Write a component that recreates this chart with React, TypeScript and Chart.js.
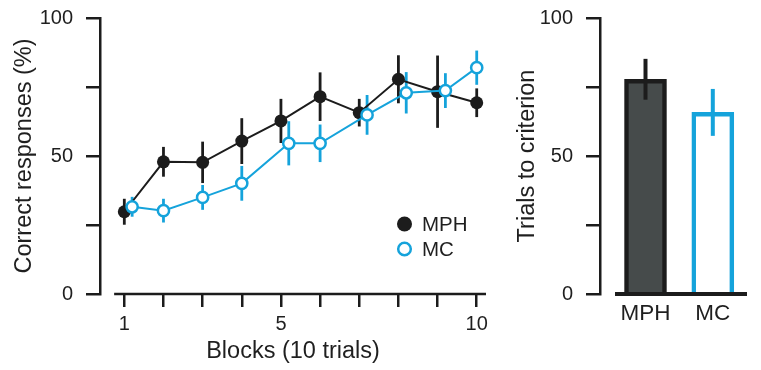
import React, { useEffect, useRef } from "react";
import { Chart, registerables } from "chart.js";

Chart.register(...registerables);

// ---------- data ----------
const blocks = [1, 2, 3, 4, 5, 6, 7, 8, 9, 10];
const mcBlocks = [1.2, 2, 3, 4, 5.2, 6, 7.2, 8.2, 9.2, 10];
const mphMean = [29.8, 47.9, 47.7, 55.4, 62.7, 71.5, 65.7, 77.8, 73.3, 69.3];
const mphErr = [4.7, 5.4, 7.5, 8.3, 8.0, 8.8, 5.0, 8.7, 13.1, 5.2];
const mcMean = [31.6, 30.2, 35.0, 40.1, 54.6, 54.6, 64.9, 72.9, 73.7, 82.0];
const mcErr = [3.6, 4.3, 4.5, 6.3, 8.0, 6.8, 7.2, 7.5, 6.3, 6.2];
const labeledBlocks = [1, 5, 10];
const yTicks = [0, 25, 50, 75, 100];
const yLabeled = [0, 50, 100];
const groups = ["MPH", "MC"];
const groupPos = [1, 2];
const trialsMean = [77.8, 65.8];
const trialsErr = [7.4, 8.5];
const seriesNames = ["MPH", "MC"];

// ---------- style ----------
const INK = "#1c1c1c";
const BLUE = "#15a3db";
const BAR_DARK = "#464b4b";
const TEXT = "#1f1f1f";
const FONT = '"Liberation Sans", Arial, Helvetica, sans-serif';
Chart.defaults.font.family = FONT;
Chart.defaults.color = TEXT;

const leftPlugin = {
  id: "leftDecor",
  beforeDatasetsDraw(chart: any) {
    const { ctx, scales } = chart;
    const x = scales.x;
    const y = scales.y;
    ctx.save();
    // detached x axis line
    ctx.strokeStyle = INK;
    ctx.lineWidth = 2.5;
    const yb = y.getPixelForValue(0);
    ctx.beginPath();
    ctx.moveTo(x.getPixelForValue(0.74), yb);
    ctx.lineTo(x.getPixelForValue(x.max), yb);
    ctx.stroke();
    // error bars
    chart.data.datasets.forEach((ds: any, di: number) => {
      const meta = chart.getDatasetMeta(di);
      ctx.strokeStyle = ds.borderColor;
      ctx.lineWidth = 2.8;
      meta.data.forEach((pt: any, i: number) => {
        const v = ds.data[i].y;
        const e = ds.errors[i];
        ctx.beginPath();
        ctx.moveTo(pt.x, y.getPixelForValue(v + e));
        ctx.lineTo(pt.x, y.getPixelForValue(v - e));
        ctx.stroke();
      });
    });
    ctx.restore();
  },
  afterDatasetsDraw(chart: any) {
    const { ctx, chartArea } = chart;
    const cx = chartArea.right - 81.5;
    const rows = [chartArea.top + 206, chartArea.top + 231];
    ctx.save();
    ctx.fillStyle = INK;
    ctx.beginPath();
    ctx.arc(cx, rows[0], 7.5, 0, Math.PI * 2);
    ctx.fill();
    ctx.strokeStyle = BLUE;
    ctx.lineWidth = 2.5;
    ctx.fillStyle = "#fff";
    ctx.beginPath();
    ctx.arc(cx, rows[1], 6.3, 0, Math.PI * 2);
    ctx.fill();
    ctx.stroke();
    ctx.fillStyle = TEXT;
    ctx.font = `20.5px ${FONT}`;
    ctx.textBaseline = "middle";
    ctx.textAlign = "left";
    ctx.fillText(seriesNames[0], cx + 17.5, rows[0] + 1);
    ctx.fillText(seriesNames[1], cx + 17.5, rows[1] + 1);
    ctx.restore();
  },
};

const rightPlugin = {
  id: "rightDecor",
  afterDatasetsDraw(chart: any) {
    const { ctx, scales } = chart;
    const x = scales.x;
    const y = scales.y;
    ctx.save();
    const ds = chart.data.datasets[0];
    const meta = chart.getDatasetMeta(0);
    ctx.lineWidth = 4;
    meta.data.forEach((bar: any, i: number) => {
      const v = ds.data[i].y;
      const e = ds.errors[i];
      ctx.strokeStyle = ds.borderColor[i];
      ctx.beginPath();
      ctx.moveTo(bar.x, y.getPixelForValue(v + e));
      ctx.lineTo(bar.x, y.getPixelForValue(v - e));
      ctx.stroke();
    });
    const yb = y.getPixelForValue(0);
    ctx.strokeStyle = INK;
    ctx.lineWidth = 4;
    ctx.beginPath();
    ctx.moveTo(x.getPixelForValue(0.547), yb);
    ctx.lineTo(x.getPixelForValue(x.max), yb);
    ctx.stroke();
    ctx.restore();
  },
};

function yScale(title: string, titlePad: number) {
  return {
    type: "linear",
    min: 0,
    max: 100,
    afterBuildTicks: (s: any) => {
      s.ticks = yTicks.map((v) => ({ value: v }));
    },
    afterFit: (s: any) => {
      s.width = 100;
      s.paddingTop = 0;
      s.paddingBottom = 0;
    },
    ticks: {
      autoSkip: false,
      padding: 13,
      color: TEXT,
      font: { size: 20 },
      callback: (v: number) => (yLabeled.includes(v) ? String(v) : ""),
    },
    grid: {
      drawOnChartArea: false,
      drawTicks: true,
      tickLength: 14,
      color: INK,
      lineWidth: 2.5,
    },
    border: { display: true, color: INK, width: 2.5 },
    title: {
      display: true,
      text: title,
      color: TEXT,
      font: { size: 23.5 },
      padding: { top: titlePad, bottom: 0 },
    },
  };
}

export default function App() {
  const leftRef = useRef<HTMLCanvasElement>(null);
  const rightRef = useRef<HTMLCanvasElement>(null);

  useEffect(() => {
    const left = new Chart(leftRef.current as HTMLCanvasElement, {
      type: "line",
      data: {
        datasets: [
          {
            label: seriesNames[0],
            data: blocks.map((b, i) => ({ x: b, y: mphMean[i] })),
            errors: mphErr,
            borderColor: INK,
            backgroundColor: INK,
            borderWidth: 2,
            pointRadius: 6.5,
            pointBackgroundColor: INK,
            pointBorderColor: INK,
            pointBorderWidth: 0,
            tension: 0,
            order: 1,
          } as any,
          {
            label: seriesNames[1],
            data: mcBlocks.map((b, i) => ({ x: b, y: mcMean[i] })),
            errors: mcErr,
            borderColor: BLUE,
            backgroundColor: "#fff",
            borderWidth: 2,
            pointRadius: 5.6,
            pointBackgroundColor: "#fff",
            pointBorderColor: BLUE,
            pointBorderWidth: 2.5,
            tension: 0,
            order: 0,
          } as any,
        ],
      },
      options: {
        animation: false,
        responsive: false,
        devicePixelRatio: 1,
        events: [],
        layout: { padding: { top: 18, right: 14, left: 0, bottom: 0 } },
        plugins: { legend: { display: false }, tooltip: { enabled: false } },
        scales: {
          x: {
            type: "linear",
            min: 0.379,
            max: 10.237,
            afterBuildTicks: (s: any) => {
              s.ticks = blocks.map((v) => ({ value: v }));
            },
            afterFit: (s: any) => {
              s.height = 76;
              s.paddingLeft = 0;
              s.paddingRight = 0;
            },
            ticks: {
              autoSkip: false,
              maxRotation: 0,
              padding: 5.5,
              color: TEXT,
              font: { size: 20 },
              callback: (v: number) => (labeledBlocks.includes(v) ? String(v) : ""),
            },
            grid: {
              drawOnChartArea: false,
              drawTicks: true,
              tickLength: 13,
              color: INK,
              lineWidth: 2.5,
            },
            border: { display: false },
            title: {
              display: true,
              text: "Blocks (10 trials)",
              color: TEXT,
              font: { size: 23.5 },
              padding: { top: 0, bottom: 4.6 },
            },
          },
          y: yScale("Correct responses (%)", 10) as any,
        },
      } as any,
      plugins: [leftPlugin],
    });

    const right = new Chart(rightRef.current as HTMLCanvasElement, {
      type: "bar",
      data: {
        datasets: [
          {
            label: "Trials to criterion",
            data: groupPos.map((p, i) => ({ x: p, y: trialsMean[i] })),
            errors: trialsErr,
            backgroundColor: [BAR_DARK, "#ffffff"],
            borderColor: [INK, BLUE],
            borderWidth: 4.5,
            borderSkipped: "bottom",
            barThickness: 42,
          } as any,
        ],
      },
      options: {
        animation: false,
        responsive: false,
        devicePixelRatio: 1,
        events: [],
        layout: { padding: { top: 18, right: 14, left: 0, bottom: 0 } },
        plugins: { legend: { display: false }, tooltip: { enabled: false } },
        scales: {
          x: {
            type: "linear",
            min: 0.324,
            max: 2.508,
            offset: false,
            afterBuildTicks: (s: any) => {
              s.ticks = groupPos.map((v) => ({ value: v }));
            },
            afterFit: (s: any) => {
              s.height = 76;
              s.paddingLeft = 0;
              s.paddingRight = 0;
            },
            ticks: {
              autoSkip: false,
              maxRotation: 0,
              padding: 6.5,
              color: TEXT,
              font: { size: 22.5 },
              callback: (v: number) => groups[groupPos.indexOf(v)] ?? "",
            },
            grid: { display: false, drawTicks: false, offset: false },
            border: { display: false },
          },
          y: yScale("Trials to criterion", 13.4) as any,
        },
      } as any,
      plugins: [rightPlugin],
    });

    return () => {
      left.destroy();
      right.destroy();
    };
  }, []);

  return (
    <div
      style={{
        position: "absolute",
        left: 0,
        top: 0,
        width: 761,
        height: 370,
        background: "#ffffff",
        overflow: "hidden",
      }}
    >
      <canvas
        ref={leftRef}
        width={500}
        height={370}
        style={{ position: "absolute", left: 0, top: 0, width: 500, height: 370 }}
      />
      <canvas
        ref={rightRef}
        width={261}
        height={370}
        style={{ position: "absolute", left: 500, top: 0, width: 261, height: 370 }}
      />
    </div>
  );
}
